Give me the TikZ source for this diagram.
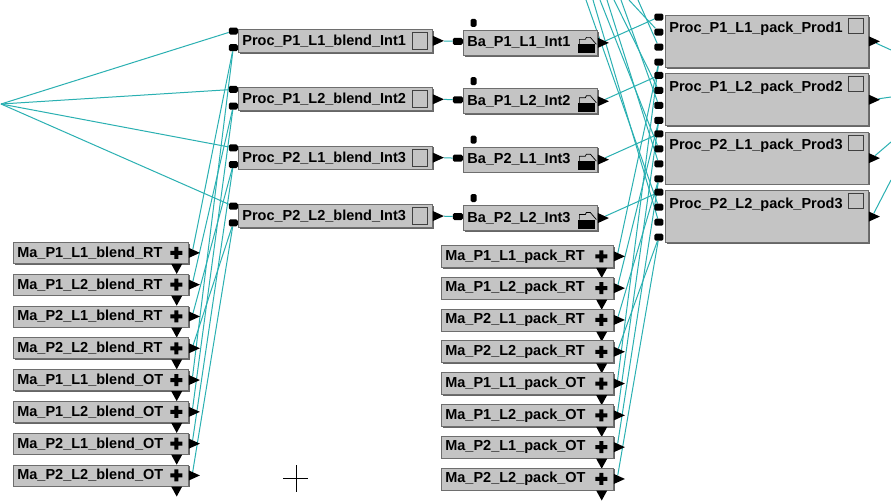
\documentclass[tikz,border=0pt]{standalone}
\usepackage{fontspec}
\newfontfamily\blkfont{Liberation Sans}
\usetikzlibrary{shapes.geometric, positioning, backgrounds, calc, shadows}
\definecolor{boxfill}{RGB}{196,196,196}
\definecolor{boxedge}{RGB}{110,110,110}
\definecolor{wirec}{RGB}{42,176,178}

\begin{document}
\begin{tikzpicture}[
    x=1pt, y=-1pt,
    font=\blkfont\bfseries\fontsize{14.5pt}{17pt}\selectfont,
    block/.style={rectangle, draw=boxedge, fill=boxfill, line width=0.7pt, inner xsep=4pt, inner ysep=1pt, align=left, anchor=north west,
        drop shadow={shadow xshift=1.3pt, shadow yshift=-1.3pt, fill=black!60, opacity=1}},
    inport/.style={rectangle, fill=black, minimum width=9pt, minimum height=7pt, inner sep=0pt, rounded corners=1.5pt, anchor=east},
    topport/.style={rectangle, fill=black, minimum width=6pt, minimum height=8pt, inner sep=0pt, rounded corners=1.5pt, anchor=south},
    outport/.style={isosceles triangle, isosceles triangle stretches, fill=black, minimum width=10pt, minimum height=11pt, inner sep=0pt, anchor=west},
    downport/.style={isosceles triangle, isosceles triangle stretches, shape border rotate=-90, fill=black, minimum width=11pt, minimum height=10pt, inner sep=0pt, anchor=north},
    iconbox/.style={draw=black!75, fill=boxfill, line width=0.8pt},
    wire/.style={draw=wirec, line width=1pt},
    procblend/.style={block, minimum width=194pt, minimum height=23pt, text width=186pt,
        path picture={\draw[iconbox] ([xshift=-20pt,yshift=-3pt]path picture bounding box.north east) rectangle ++(15,17);},
        append after command={\pgfextra{\xdef\blk{\tikzlastnode}}
            node[inport] (\blk-a) at ([yshift=-2pt]\blk.north west) {}
            node[inport] (\blk-b) at ([yshift=5pt]\blk.south west) {}
            node[outport] (\blk-o) at (\blk.east) {}}},
    batch/.style={block, minimum width=134pt, minimum height=25pt, text width=126pt,
        path picture={
            \fill[black] ([xshift=-19pt,yshift=-14pt]path picture bounding box.north east) rectangle ++(17,9);
            \draw[black, line width=0.7pt] ([xshift=-18pt,yshift=-14pt]path picture bounding box.north east)
                -- ++(0,-5) -- ++(6,0) -- ++(1,-2) -- ++(4,0) -- ++(6,7);},
        append after command={\pgfextra{\xdef\blk{\tikzlastnode}}
            node[inport, minimum width=10pt] (\blk-a) at ([yshift=1.5pt]\blk.west) {}
            node[topport] (\blk-t) at ([xshift=10.5pt,yshift=3pt]\blk.north west) {}
            node[outport] (\blk-o) at (\blk.east) {}}},
    procpack/.style={block, minimum width=203pt, minimum height=52pt, text width=195pt, text height=15pt, text depth=32pt,
        path picture={\draw[iconbox] ([xshift=-20pt,yshift=-3pt]path picture bounding box.north east) rectangle ++(15,15);},
        append after command={\pgfextra{\xdef\blk{\tikzlastnode}}
            node[inport] (\blk-a) at ([xshift=-1.5pt,yshift=-2pt]\blk.north west) {}
            node[inport] (\blk-b) at ([xshift=-1.5pt,yshift=-17pt]\blk.north west) {}
            node[inport] (\blk-c) at ([xshift=-1.5pt,yshift=-32pt]\blk.north west) {}
            node[inport] (\blk-d) at ([xshift=-1.5pt,yshift=-47pt]\blk.north west) {}
            node[outport] (\blk-o) at (\blk.east) {}}},
    monitor/.style={block, minimum height=21pt,
        path picture={\fill[black]
            ([xshift=-18pt,yshift=2pt]path picture bounding box.east) rectangle ++(12,4)
            ([xshift=-14pt,yshift=6pt]path picture bounding box.east) rectangle ++(4,12);},
        append after command={\pgfextra{\xdef\blk{\tikzlastnode}}
            node[downport] (\blk-d) at ([xshift=-12pt]\blk.south east) {}
            node[outport] (\blk-o) at (\blk.east) {}}},
    mblend/.style={monitor, minimum width=175pt, text width=167pt},
    mpack/.style={monitor, minimum width=172pt, text width=164pt, minimum height=22pt}
]
    \useasboundingbox (0,0) rectangle (891,501);

    % free ends of the wires leaving the view
    \coordinate (src) at (1,104);
    \coordinate (t1) at (586,0);
    \coordinate (t2) at (593,0);
    \coordinate (t3) at (600,0);
    \coordinate (t4) at (607,0);
    \coordinate (t5) at (614,0);
    \coordinate (t6) at (621,0);
    \coordinate (t7) at (629,0);
    \coordinate (t8) at (638,0);
    \coordinate (e1) at (891,50);
    \coordinate (e2) at (891,97);
    \coordinate (e3) at (891,142);
    \coordinate (e4) at (891,180);

    % blending processes
    \node[procblend] (pb1) at (238,29) {Proc\_P1\_L1\_blend\_Int1};
    \node[procblend, below=34.7pt of pb1] (pb2) {Proc\_P1\_L2\_blend\_Int2};
    \node[procblend, below=34.7pt of pb2] (pb3) {Proc\_P2\_L1\_blend\_Int3};
    \node[procblend, below=34.7pt of pb3] (pb4) {Proc\_P2\_L2\_blend\_Int3};

    % intermediate batches
    \node[batch] (ba1) at (463,30) {Ba\_P1\_L1\_Int1};
    \node[batch, below=32.7pt of ba1] (ba2) {Ba\_P1\_L2\_Int2};
    \node[batch, below=32.7pt of ba2] (ba3) {Ba\_P2\_L1\_Int3};
    \node[batch, below=32.7pt of ba3] (ba4) {Ba\_P2\_L2\_Int3};

    % packing processes
    \node[procpack] (pk1) at (665,15) {Proc\_P1\_L1\_pack\_Prod1};
    \node[procpack, below=5.7pt of pk1] (pk2) {Proc\_P1\_L2\_pack\_Prod2};
    \node[procpack, below=5.7pt of pk2] (pk3) {Proc\_P2\_L1\_pack\_Prod3};
    \node[procpack, below=5.7pt of pk3] (pk4) {Proc\_P2\_L2\_pack\_Prod3};

    % blending monitors
    \node[mblend] (mb1) at (13,242) {Ma\_P1\_L1\_blend\_RT};
    \node[mblend, below=10.1pt of mb1] (mb2) {Ma\_P1\_L2\_blend\_RT};
    \node[mblend, below=10.1pt of mb2] (mb3) {Ma\_P2\_L1\_blend\_RT};
    \node[mblend, below=10.1pt of mb3] (mb4) {Ma\_P2\_L2\_blend\_RT};
    \node[mblend, below=10.1pt of mb4] (mb5) {Ma\_P1\_L1\_blend\_OT};
    \node[mblend, below=10.1pt of mb5] (mb6) {Ma\_P1\_L2\_blend\_OT};
    \node[mblend, below=10.1pt of mb6] (mb7) {Ma\_P2\_L1\_blend\_OT};
    \node[mblend, below=10.1pt of mb7] (mb8) {Ma\_P2\_L2\_blend\_OT};

    % packing monitors
    \node[mpack] (mp1) at (441,245) {Ma\_P1\_L1\_pack\_RT};
    \node[mpack, below=9.1pt of mp1] (mp2) {Ma\_P1\_L2\_pack\_RT};
    \node[mpack, below=9.1pt of mp2] (mp3) {Ma\_P2\_L1\_pack\_RT};
    \node[mpack, below=9.1pt of mp3] (mp4) {Ma\_P2\_L2\_pack\_RT};
    \node[mpack, below=9.1pt of mp4] (mp5) {Ma\_P1\_L1\_pack\_OT};
    \node[mpack, below=9.1pt of mp5] (mp6) {Ma\_P1\_L2\_pack\_OT};
    \node[mpack, below=9.1pt of mp6] (mp7) {Ma\_P2\_L1\_pack\_OT};
    \node[mpack, below=9.1pt of mp7] (mp8) {Ma\_P2\_L2\_pack\_OT};

    \begin{scope}[on background layer]
        \fill[white] (0,0) rectangle (891,501);
        % feed into blending
        \draw[wire] (src) -- (pb1-a);
        \draw[wire] (src) -- (pb2-a);
        \draw[wire] (src) -- (pb3-a);
        \draw[wire] (src) -- (pb4-a);
        \draw[wire] (mb1-o) -- (pb1-b);
        \draw[wire] (mb2-o) -- (pb2-b);
        \draw[wire] (mb3-o) -- (pb3-b);
        \draw[wire] (mb4-o) -- (pb4-b);
        \draw[wire] (mb5-o) -- (pb1-b);
        \draw[wire] (mb6-o) -- (pb2-b);
        \draw[wire] (mb7-o) -- (pb3-b);
        \draw[wire] (mb8-o) -- (pb4-b);
        % blending to batches
        \draw[wire] (pb1-o) -- (ba1-a);
        \draw[wire] (pb2-o) -- (ba2-a);
        \draw[wire] (pb3-o) -- (ba3-a);
        \draw[wire] (pb4-o) -- (ba4-a);
        % batches to packing
        \draw[wire] (ba1-o) -- (pk1-a);
        \draw[wire] (ba2-o) -- (pk2-a);
        \draw[wire] (ba3-o) -- (pk3-a);
        \draw[wire] (ba4-o) -- (pk4-a);
        % from above
        \draw[wire] (t1) -- (pk4-b);
        \draw[wire] (t2) -- (pk4-c);
        \draw[wire] (t3) -- (pk3-b);
        \draw[wire] (t4) -- (pk3-c);
        \draw[wire] (t5) -- (pk2-b);
        \draw[wire] (t6) -- (pk2-c);
        \draw[wire] (t7) -- (pk1-b);
        \draw[wire] (t8) -- (pk1-c);
        % packing monitors
        \draw[wire] (mp1-o) -- (pk1-d);
        \draw[wire] (mp2-o) -- (pk2-d);
        \draw[wire] (mp3-o) -- (pk3-d);
        \draw[wire] (mp4-o) -- (pk4-d);
        \draw[wire] (mp5-o) -- (pk1-d);
        \draw[wire] (mp6-o) -- (pk2-d);
        \draw[wire] (mp7-o) -- (pk3-d);
        \draw[wire] (mp8-o) -- (pk4-d);
        % products leaving
        \draw[wire] (pk1-o) -- (e1);
        \draw[wire] (pk2-o) -- (e2);
        \draw[wire] (pk3-o) -- (e3);
        \draw[wire] (pk4-o) -- (e4);
    \end{scope}

    % cursor
    \draw[line width=0.6pt] (283,478) -- (308,478) (296,465) -- (296,492);
\end{tikzpicture}
\end{document}
